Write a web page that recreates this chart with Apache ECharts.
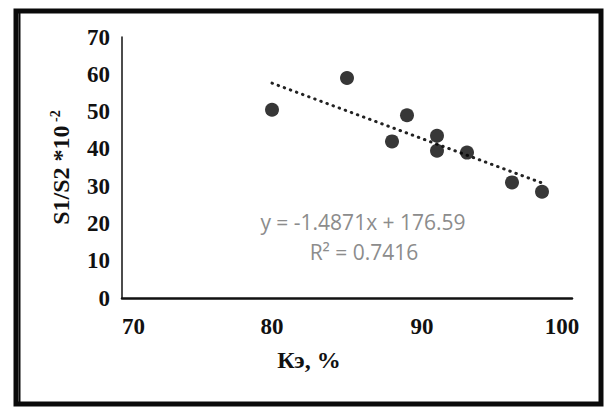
<!DOCTYPE html>
<html>
<head>
<meta charset="utf-8">
<script src="https://cdn.jsdelivr.net/npm/echarts@6/dist/echarts.min.js"></script>
<style>
  html, body { margin: 0; padding: 0; background: #ffffff; }
  #chart { width: 607px; height: 408px; }
</style>
</head>
<body>
<div id="chart"></div>
<script>
// Efficiency Kэ (%) against the S1/S2 ratio (×10⁻²)
const kValues = [80, 85, 88, 89, 91, 91, 93, 96, 98];
const ratioValues = [50.5, 59, 42, 49, 43.5, 39.5, 39, 31, 28.5];

// Linear trend fitted to the points
const trendSlope = -1.4871;
const trendIntercept = 176.59;
const trendRSquared = 0.7416;
const trendRange = [80, 98];

const xTicks = [70, 80, 90, 100];
const yTicks = [0, 10, 20, 30, 40, 50, 60, 70];

const points = kValues.map((k, i) => [k, ratioValues[i]]);
const trendPoints = trendRange.map(x => [x, trendSlope * x + trendIntercept]);

const serif = '"Liberation Serif", "Times New Roman", serif';
const labelStyle = { fontFamily: serif, fontWeight: 'bold', fontSize: 23, color: '#111' };

const chart = echarts.init(document.getElementById('chart'), null, { renderer: 'svg' });

chart.setOption({
  backgroundColor: '#ffffff',
  animation: false,
  grid: { left: 122, right: 35, top: 37, bottom: 110 },
  xAxis: {
    type: 'value',
    min: xTicks[0],
    max: xTicks[xTicks.length - 1],
    interval: 10,
    name: 'Кэ, %',
    nameLocation: 'middle',
    nameGap: 50,
    nameTextStyle: {
      fontFamily: serif, fontWeight: 'bold', fontSize: 24, color: '#111',
      padding: [0, 76, 0, 0]
    },
    axisLine: { lineStyle: { color: '#111', width: 2.5 } },
    axisTick: { show: false },
    splitLine: { show: false },
    axisLabel: {
      margin: 17,
      alignMinLabel: 'left',
      alignMaxLabel: 'center',
      formatter: v => (v === xTicks[xTicks.length - 1] ? '{r|' + v + '}' : '{c|' + v + '}'),
      rich: {
        c: labelStyle,
        r: Object.assign({ padding: [0, 20, 0, 0] }, labelStyle)
      }
    }
  },
  yAxis: {
    type: 'value',
    min: yTicks[0],
    max: yTicks[yTicks.length - 1],
    interval: 10,
    name: '{m|S1/S2 *10}{s| -2}',
    nameLocation: 'middle',
    nameRotate: 90,
    nameGap: 48,
    nameTextStyle: {
      rich: {
        m: { fontFamily: serif, fontWeight: 'bold', fontSize: 24, color: '#111', lineHeight: 26 },
        s: { fontFamily: serif, fontWeight: 'bold', fontSize: 14, color: '#111', verticalAlign: 'top', lineHeight: 14 }
      }
    },
    axisLine: { show: true, lineStyle: { color: '#111', width: 1.5 } },
    axisTick: { show: false },
    splitLine: { show: false },
    axisLabel: Object.assign({ margin: 12 }, labelStyle)
  },
  series: [
    {
      type: 'line',
      data: trendPoints,
      symbol: 'none',
      silent: true,
      lineStyle: { color: '#222', width: 3, type: [0.5, 6], cap: 'round' },
      z: 1
    },
    {
      type: 'scatter',
      data: points,
      symbol: 'circle',
      symbolSize: 14,
      itemStyle: { color: '#050505' },
      z: 2
    }
  ],
  graphic: [
    {
      type: 'rect',
      shape: { x: 16, y: 11, width: 585, height: 393 },
      style: { fill: 'none', stroke: '#0a0a0a', lineWidth: 5 },
      silent: true
    },
    {
      type: 'line',
      shape: { x1: 19.5, y1: 9, x2: 19.5, y2: 406 },
      style: { stroke: '#0a0a0a', lineWidth: 2 },
      silent: true
    },
    {
      type: 'text',
      x: 363, y: 222,
      style: {
        text: 'y = ' + trendSlope + 'x + ' + trendIntercept,
        fontFamily: '"Open Sans", "Liberation Sans", sans-serif',
        fontSize: 21, fill: '#8c8c8c',
        textAlign: 'center', textVerticalAlign: 'middle'
      }
    },
    {
      type: 'text',
      x: 364, y: 252,
      style: {
        text: 'R² = ' + trendRSquared,
        fontFamily: '"Open Sans", "Liberation Sans", sans-serif',
        fontSize: 21, fill: '#8c8c8c',
        textAlign: 'center', textVerticalAlign: 'middle'
      }
    }
  ]
});
</script>
</body>
</html>
